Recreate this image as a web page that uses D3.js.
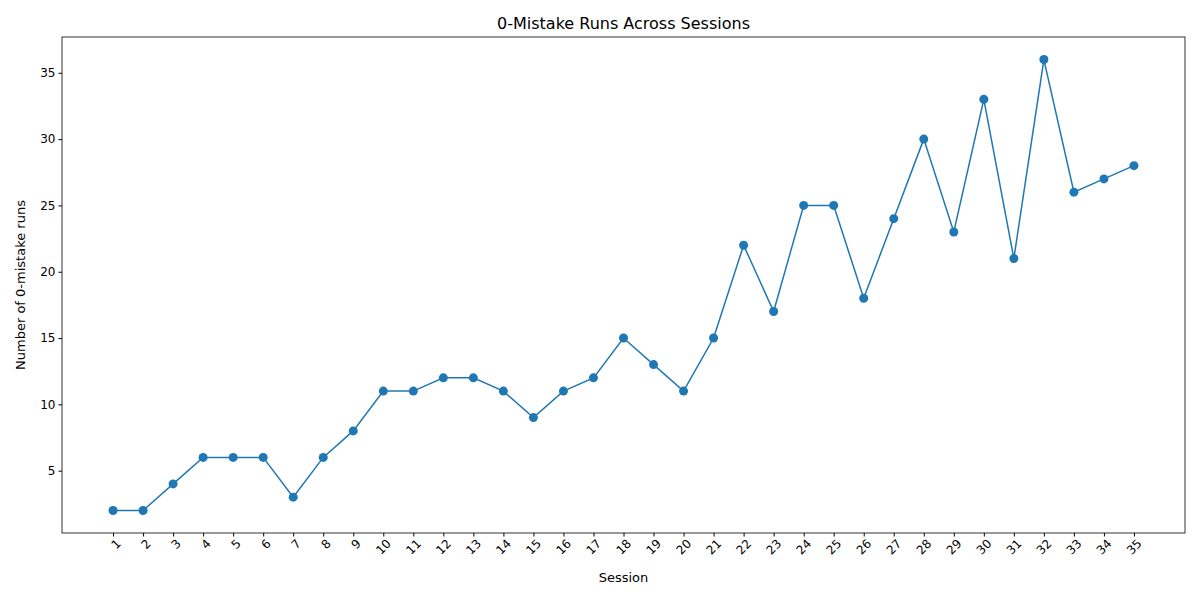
<!DOCTYPE html>
<html><head><meta charset="utf-8">
<script src="https://cdn.jsdelivr.net/npm/d3@7"></script>
<style>body{margin:0;background:#fff;font-family:"DejaVu Sans",sans-serif}</style>
</head><body><svg id="chart" width="1200" height="600"></svg>
<script>
var sessions = d3.range(1, 36);
var zeroMistakeRuns = [2,2,4,6,6,6,3,6,8,11,11,12,12,11,9,11,12,15,13,11,15,22,17,25,25,18,24,30,23,33,21,36,26,27,28];
var yTicks = [5,10,15,20,25,30,35];

var m = {left: 62, right: 15, top: 37, bottom: 67};
var W = 1200, H = 600;
var svg = d3.select('#chart');
var x = d3.scaleLinear().domain([-0.7, 36.7]).range([m.left, W - m.right]);
var y = d3.scaleLinear().domain([0.3, 37.7]).range([H - m.bottom, m.top]);

var gx = svg.append('g').attr('transform', 'translate(0,' + (H - m.bottom) + ')')
  .call(d3.axisBottom(x).tickValues(sessions).tickFormat(d3.format('d')).tickSizeOuter(0).tickSize(3.5));
gx.selectAll('text').attr('transform', 'rotate(-45)').style('text-anchor', 'end')
  .attr('dx', '-0.2em').attr('dy', '0.6em');
var gy = svg.append('g').attr('transform', 'translate(' + m.left + ',0)')
  .call(d3.axisLeft(y).tickValues(yTicks).tickSizeOuter(0).tickSize(3.5));
svg.selectAll('.tick text').attr('font-size', 12).attr('font-family', 'DejaVu Sans').attr('fill', '#000');
svg.selectAll('.domain').remove();

svg.append('rect').attr('x', m.left).attr('y', m.top)
  .attr('width', W - m.left - m.right).attr('height', H - m.top - m.bottom)
  .attr('fill', 'none').attr('stroke', '#000').attr('stroke-width', 0.8);

var line = d3.line().x(function(d, i){ return x(sessions[i]); }).y(function(d){ return y(d); });
svg.append('path').datum(zeroMistakeRuns).attr('d', line)
  .attr('fill', 'none').attr('stroke', '#1f77b4').attr('stroke-width', 1.5);
svg.selectAll('circle.pt').data(zeroMistakeRuns).enter().append('circle').attr('class', 'pt')
  .attr('cx', function(d, i){ return x(sessions[i]); }).attr('cy', function(d){ return y(d); })
  .attr('r', 4.5).attr('fill', '#1f77b4');

svg.append('text').attr('x', (m.left + W - m.right) / 2).attr('y', 29).attr('text-anchor', 'middle')
  .attr('font-size', 16).text('0-Mistake Runs Across Sessions');
svg.append('text').attr('x', (m.left + W - m.right) / 2).attr('y', 582).attr('text-anchor', 'middle')
  .attr('font-size', 13).text('Session');
svg.append('text').attr('transform', 'translate(25,' + ((m.top + H - m.bottom) / 2) + ') rotate(-90)')
  .attr('text-anchor', 'middle').attr('font-size', 13).text('Number of 0-mistake runs');
</script></body></html>
